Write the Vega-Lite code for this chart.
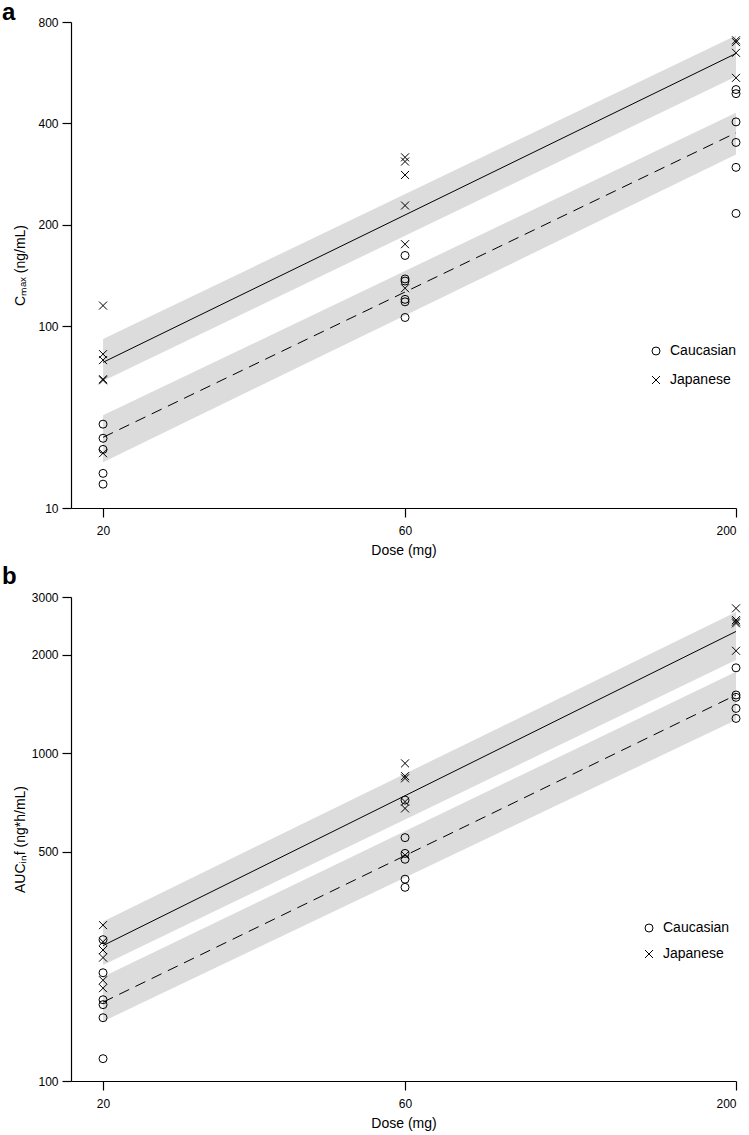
{
  "$schema": "https://vega.github.io/schema/vega-lite/v6.json",
  "background": "white",
  "padding": {"left": 2, "top": 1, "right": 0, "bottom": 3},
  "spacing": 8,
  "config": {
    "view": {"stroke": null},
    "font": "Liberation Sans",
    "axis": {
      "grid": false,
      "domainColor": "#000",
      "tickColor": "#000",
      "labelColor": "#000",
      "titleColor": "#000",
      "labelFont": "Liberation Sans",
      "titleFont": "Liberation Sans",
      "labelFontSize": 12,
      "titleFontSize": 14,
      "titleFontWeight": "normal",
      "tickSize": 9,
      "domainWidth": 1.2,
      "tickWidth": 1.2
    },
    "axisY": {"labelPadding": 4, "titleX": -44},
    "axisX": {"labelPadding": 8, "titlePadding": 7},
    "legend": {
      "orient": "none",
      "labelFont": "Liberation Sans",
      "labelFontSize": 14,
      "labelColor": "#000",
      "symbolSize": 64,
      "symbolStrokeWidth": 1,
      "symbolStrokeColor": "#000",
      "labelOffset": 7,
      "padding": 0
    },
    "title": {"font": "Liberation Sans", "color": "#000"}
  },
  "datasets": {
    "cmax_pts": [
      {"dose": 20, "value": 51.1, "group": "Caucasian"},
      {"dose": 20, "value": 46.4, "group": "Caucasian"},
      {"dose": 20, "value": 43.0, "group": "Caucasian"},
      {"dose": 20, "value": 36.5, "group": "Caucasian"},
      {"dose": 20, "value": 33.9, "group": "Caucasian"},
      {"dose": 20, "value": 115, "group": "Japanese"},
      {"dose": 20, "value": 82.5, "group": "Japanese"},
      {"dose": 20, "value": 79.2, "group": "Japanese"},
      {"dose": 20, "value": 69, "group": "Japanese"},
      {"dose": 20, "value": 69.5, "group": "Japanese"},
      {"dose": 20, "value": 41.9, "group": "Japanese"},
      {"dose": 60, "value": 162, "group": "Caucasian"},
      {"dose": 60, "value": 138, "group": "Caucasian"},
      {"dose": 60, "value": 136, "group": "Caucasian"},
      {"dose": 60, "value": 120, "group": "Caucasian"},
      {"dose": 60, "value": 118, "group": "Caucasian"},
      {"dose": 60, "value": 106, "group": "Caucasian"},
      {"dose": 60, "value": 317, "group": "Japanese"},
      {"dose": 60, "value": 308, "group": "Japanese"},
      {"dose": 60, "value": 281, "group": "Japanese"},
      {"dose": 60, "value": 228, "group": "Japanese"},
      {"dose": 60, "value": 175, "group": "Japanese"},
      {"dose": 60, "value": 129.5, "group": "Japanese"},
      {"dose": 200, "value": 504, "group": "Caucasian"},
      {"dose": 200, "value": 490, "group": "Caucasian"},
      {"dose": 200, "value": 404, "group": "Caucasian"},
      {"dose": 200, "value": 351, "group": "Caucasian"},
      {"dose": 200, "value": 296, "group": "Caucasian"},
      {"dose": 200, "value": 216, "group": "Caucasian"},
      {"dose": 200, "value": 706, "group": "Japanese"},
      {"dose": 200, "value": 697, "group": "Japanese"},
      {"dose": 200, "value": 648, "group": "Japanese"},
      {"dose": 200, "value": 546, "group": "Japanese"}
    ],
    "cmax_fit": [
      {"dose": 20, "fit": 78, "lo": 68.6, "hi": 91.5, "group": "Japanese"},
      {"dose": 200, "fit": 645, "lo": 551, "hi": 730, "group": "Japanese"},
      {"dose": 20, "fit": 46.7, "lo": 39.4, "hi": 54.3, "group": "Caucasian"},
      {"dose": 200, "fit": 375, "lo": 323, "hi": 430, "group": "Caucasian"}
    ],
    "auc_pts": [
      {"dose": 20, "value": 270, "group": "Caucasian"},
      {"dose": 20, "value": 214, "group": "Caucasian"},
      {"dose": 20, "value": 177, "group": "Caucasian"},
      {"dose": 20, "value": 171, "group": "Caucasian"},
      {"dose": 20, "value": 156, "group": "Caucasian"},
      {"dose": 20, "value": 117, "group": "Caucasian"},
      {"dose": 20, "value": 299, "group": "Japanese"},
      {"dose": 20, "value": 266, "group": "Japanese"},
      {"dose": 20, "value": 251, "group": "Japanese"},
      {"dose": 20, "value": 238, "group": "Japanese"},
      {"dose": 20, "value": 203, "group": "Japanese"},
      {"dose": 20, "value": 192, "group": "Japanese"},
      {"dose": 60, "value": 720, "group": "Caucasian"},
      {"dose": 60, "value": 553, "group": "Caucasian"},
      {"dose": 60, "value": 495, "group": "Caucasian"},
      {"dose": 60, "value": 475, "group": "Caucasian"},
      {"dose": 60, "value": 413, "group": "Caucasian"},
      {"dose": 60, "value": 390, "group": "Caucasian"},
      {"dose": 60, "value": 932, "group": "Japanese"},
      {"dose": 60, "value": 852, "group": "Japanese"},
      {"dose": 60, "value": 839, "group": "Japanese"},
      {"dose": 60, "value": 712, "group": "Japanese"},
      {"dose": 60, "value": 679, "group": "Japanese"},
      {"dose": 60, "value": 489, "group": "Japanese"},
      {"dose": 200, "value": 1824, "group": "Caucasian"},
      {"dose": 200, "value": 1507, "group": "Caucasian"},
      {"dose": 200, "value": 1482, "group": "Caucasian"},
      {"dose": 200, "value": 1371, "group": "Caucasian"},
      {"dose": 200, "value": 1278, "group": "Caucasian"},
      {"dose": 200, "value": 2770, "group": "Japanese"},
      {"dose": 200, "value": 2551, "group": "Japanese"},
      {"dose": 200, "value": 2522, "group": "Japanese"},
      {"dose": 200, "value": 2493, "group": "Japanese"},
      {"dose": 200, "value": 2056, "group": "Japanese"}
    ],
    "auc_fit": [
      {"dose": 20, "fit": 259, "lo": 226, "hi": 307, "group": "Japanese"},
      {"dose": 200, "fit": 2355, "lo": 1926, "hi": 2700, "group": "Japanese"},
      {"dose": 20, "fit": 174, "lo": 152, "hi": 208, "group": "Caucasian"},
      {"dose": 200, "fit": 1507, "lo": 1264, "hi": 1775, "group": "Caucasian"}
    ]
  },
  "resolve": {
    "scale": {"shape": "independent"},
    "legend": {"shape": "independent"}
  },
  "vconcat": [
    {
      "title": {"text": "a", "anchor": "start", "frame": "group", "fontSize": 24, "fontWeight": "bold", "offset": -9, "dx": -69},
      "width": 665,
      "height": 486,
      "layer": [
        {
          "data": {"name": "cmax_fit"},
          "mark": {"type": "area", "color": "#dcdcdc", "opacity": 1},
          "encoding": {
            "x": {"field": "dose", "type": "quantitative", "scale": {"type": "log", "domain": [17.8, 200], "nice": false, "zero": false}, "axis": {"values": [20, 60, 200], "format": "d", "title": "Dose (mg)"}},
            "y": {"field": "lo", "type": "quantitative", "scale": {"type": "log", "domain": [28.8, 800], "nice": false, "zero": false}, "axis": {"values": [28.8, 100, 200, 400, 800], "labelExpr": "datum.value < 50 ? '10' : format(datum.value, 'd')", "title": "Cₘₐₓ (ng/mL)"}},
            "y2": {"field": "hi"},
            "detail": {"field": "group", "type": "nominal"}
          }
        },
        {
          "data": {"name": "cmax_fit"},
          "transform": [{"filter": "datum.group === 'Japanese'"}],
          "mark": {"type": "line", "color": "#000", "strokeWidth": 1},
          "encoding": {
            "x": {"field": "dose", "type": "quantitative"},
            "y": {"field": "fit", "type": "quantitative"}
          }
        },
        {
          "data": {"name": "cmax_fit"},
          "transform": [{"filter": "datum.group === 'Caucasian'"}],
          "mark": {"type": "line", "color": "#000", "strokeWidth": 1, "strokeDash": [11, 7]},
          "encoding": {
            "x": {"field": "dose", "type": "quantitative"},
            "y": {"field": "fit", "type": "quantitative"}
          }
        },
        {
          "data": {"name": "cmax_pts"},
          "mark": {"type": "point", "filled": false, "color": "#000", "strokeWidth": 1, "size": 64, "opacity": 1},
          "encoding": {
            "x": {"field": "dose", "type": "quantitative"},
            "y": {"field": "value", "type": "quantitative"},
            "shape": {"field": "group", "type": "nominal", "scale": {"domain": ["Caucasian", "Japanese"], "range": ["circle", "M-1,-1L1,1M-1,1L1,-1"]}, "legend": {"title": null, "legendX": 578, "legendY": 322, "rowPadding": 15}}
          }
        }
      ]
    },
    {
      "title": {"text": "b", "anchor": "start", "frame": "group", "fontSize": 24, "fontWeight": "bold", "offset": 2, "dx": -69},
      "width": 665,
      "height": 484,
      "layer": [
        {
          "data": {"name": "auc_fit"},
          "mark": {"type": "area", "color": "#dcdcdc", "opacity": 1},
          "encoding": {
            "x": {"field": "dose", "type": "quantitative", "scale": {"type": "log", "domain": [17.8, 200], "nice": false, "zero": false}, "axis": {"values": [20, 60, 200], "format": "d", "title": "Dose (mg)"}},
            "y": {"field": "lo", "type": "quantitative", "scale": {"type": "log", "domain": [100, 3000], "nice": false, "zero": false}, "axis": {"values": [100, 500, 1000, 2000, 3000], "format": "d", "title": "AUCᵢₙf (ng*h/mL)"}},
            "y2": {"field": "hi"},
            "detail": {"field": "group", "type": "nominal"}
          }
        },
        {
          "data": {"name": "auc_fit"},
          "transform": [{"filter": "datum.group === 'Japanese'"}],
          "mark": {"type": "line", "color": "#000", "strokeWidth": 1},
          "encoding": {
            "x": {"field": "dose", "type": "quantitative"},
            "y": {"field": "fit", "type": "quantitative"}
          }
        },
        {
          "data": {"name": "auc_fit"},
          "transform": [{"filter": "datum.group === 'Caucasian'"}],
          "mark": {"type": "line", "color": "#000", "strokeWidth": 1, "strokeDash": [11, 7]},
          "encoding": {
            "x": {"field": "dose", "type": "quantitative"},
            "y": {"field": "fit", "type": "quantitative"}
          }
        },
        {
          "data": {"name": "auc_pts"},
          "mark": {"type": "point", "filled": false, "color": "#000", "strokeWidth": 1, "size": 64, "opacity": 1},
          "encoding": {
            "x": {"field": "dose", "type": "quantitative"},
            "y": {"field": "value", "type": "quantitative"},
            "shape": {"field": "group", "type": "nominal", "scale": {"domain": ["Caucasian", "Japanese"], "range": ["circle", "M-1,-1L1,1M-1,1L1,-1"]}, "legend": {"title": null, "legendX": 571, "legendY": 324, "rowPadding": 12}}
          }
        }
      ]
    }
  ]
}
